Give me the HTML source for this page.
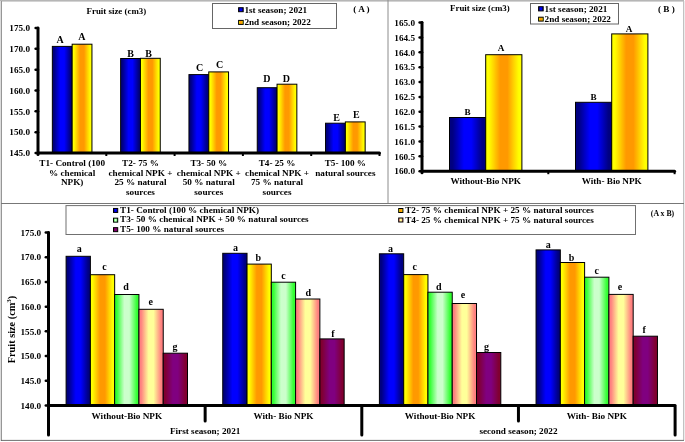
<!DOCTYPE html>
<html><head><meta charset="utf-8"><style>
html,body{margin:0;padding:0;background:#fff;width:685px;height:442px;overflow:hidden;}
svg{display:block;will-change:transform;font-family:"Liberation Serif", serif;}
</style></head><body>
<svg width="685" height="442" viewBox="0 0 685 442" font-family='"Liberation Serif", serif' font-weight="bold"><defs><linearGradient id="gB" x1="0" x2="1" y1="0" y2="0"><stop offset="0.000" stop-color="#000080"/><stop offset="0.025" stop-color="#000080"/><stop offset="0.050" stop-color="#000080"/><stop offset="0.075" stop-color="#000080"/><stop offset="0.100" stop-color="#000086"/><stop offset="0.125" stop-color="#000090"/><stop offset="0.150" stop-color="#00009a"/><stop offset="0.175" stop-color="#0000a4"/><stop offset="0.200" stop-color="#0000ae"/><stop offset="0.225" stop-color="#0000b8"/><stop offset="0.250" stop-color="#0000c3"/><stop offset="0.275" stop-color="#0000cd"/><stop offset="0.300" stop-color="#0000d7"/><stop offset="0.325" stop-color="#0000e1"/><stop offset="0.350" stop-color="#0000eb"/><stop offset="0.375" stop-color="#0000f5"/><stop offset="0.400" stop-color="#0000ff"/><stop offset="0.425" stop-color="#0000ff"/><stop offset="0.450" stop-color="#0000ff"/><stop offset="0.475" stop-color="#0000ff"/><stop offset="0.500" stop-color="#0000ff"/><stop offset="0.525" stop-color="#0000ff"/><stop offset="0.550" stop-color="#0000ff"/><stop offset="0.575" stop-color="#0000ff"/><stop offset="0.600" stop-color="#0000ff"/><stop offset="0.625" stop-color="#0000f5"/><stop offset="0.650" stop-color="#0000eb"/><stop offset="0.675" stop-color="#0000e1"/><stop offset="0.700" stop-color="#0000d7"/><stop offset="0.725" stop-color="#0000cd"/><stop offset="0.750" stop-color="#0000c3"/><stop offset="0.775" stop-color="#0000b8"/><stop offset="0.800" stop-color="#0000ae"/><stop offset="0.825" stop-color="#0000a4"/><stop offset="0.850" stop-color="#00009a"/><stop offset="0.875" stop-color="#000090"/><stop offset="0.900" stop-color="#000086"/><stop offset="0.925" stop-color="#000080"/><stop offset="0.950" stop-color="#000080"/><stop offset="0.975" stop-color="#000080"/><stop offset="1.000" stop-color="#000080"/></linearGradient><linearGradient id="gY" x1="0" x2="1" y1="0" y2="0"><stop offset="0.000" stop-color="#ffff00"/><stop offset="0.025" stop-color="#ffff00"/><stop offset="0.050" stop-color="#ffff00"/><stop offset="0.075" stop-color="#ffff00"/><stop offset="0.100" stop-color="#fffa00"/><stop offset="0.125" stop-color="#fff200"/><stop offset="0.150" stop-color="#ffea00"/><stop offset="0.175" stop-color="#ffe200"/><stop offset="0.200" stop-color="#ffda00"/><stop offset="0.225" stop-color="#ffd200"/><stop offset="0.250" stop-color="#ffca00"/><stop offset="0.275" stop-color="#ffc100"/><stop offset="0.300" stop-color="#ffb900"/><stop offset="0.325" stop-color="#ffb100"/><stop offset="0.350" stop-color="#ffa900"/><stop offset="0.375" stop-color="#ffa100"/><stop offset="0.400" stop-color="#ff9900"/><stop offset="0.425" stop-color="#ff9900"/><stop offset="0.450" stop-color="#ff9900"/><stop offset="0.475" stop-color="#ff9900"/><stop offset="0.500" stop-color="#ff9900"/><stop offset="0.525" stop-color="#ff9900"/><stop offset="0.550" stop-color="#ff9900"/><stop offset="0.575" stop-color="#ff9900"/><stop offset="0.600" stop-color="#ff9900"/><stop offset="0.625" stop-color="#ffa100"/><stop offset="0.650" stop-color="#ffa900"/><stop offset="0.675" stop-color="#ffb100"/><stop offset="0.700" stop-color="#ffb900"/><stop offset="0.725" stop-color="#ffc100"/><stop offset="0.750" stop-color="#ffca00"/><stop offset="0.775" stop-color="#ffd200"/><stop offset="0.800" stop-color="#ffda00"/><stop offset="0.825" stop-color="#ffe200"/><stop offset="0.850" stop-color="#ffea00"/><stop offset="0.875" stop-color="#fff200"/><stop offset="0.900" stop-color="#fffa00"/><stop offset="0.925" stop-color="#ffff00"/><stop offset="0.950" stop-color="#ffff00"/><stop offset="0.975" stop-color="#ffff00"/><stop offset="1.000" stop-color="#ffff00"/></linearGradient><linearGradient id="gG" x1="0" x2="1" y1="0" y2="0"><stop offset="0.000" stop-color="#33ff33"/><stop offset="0.025" stop-color="#33ff33"/><stop offset="0.050" stop-color="#33ff33"/><stop offset="0.075" stop-color="#33ff33"/><stop offset="0.100" stop-color="#3aff3a"/><stop offset="0.125" stop-color="#46ff46"/><stop offset="0.150" stop-color="#53ff53"/><stop offset="0.175" stop-color="#5fff5f"/><stop offset="0.200" stop-color="#6bff6b"/><stop offset="0.225" stop-color="#77ff77"/><stop offset="0.250" stop-color="#83ff83"/><stop offset="0.275" stop-color="#8fff8f"/><stop offset="0.300" stop-color="#9bff9b"/><stop offset="0.325" stop-color="#a8ffa8"/><stop offset="0.350" stop-color="#b4ffb4"/><stop offset="0.375" stop-color="#c0ffc0"/><stop offset="0.400" stop-color="#ccffcc"/><stop offset="0.425" stop-color="#ccffcc"/><stop offset="0.450" stop-color="#ccffcc"/><stop offset="0.475" stop-color="#ccffcc"/><stop offset="0.500" stop-color="#ccffcc"/><stop offset="0.525" stop-color="#ccffcc"/><stop offset="0.550" stop-color="#ccffcc"/><stop offset="0.575" stop-color="#ccffcc"/><stop offset="0.600" stop-color="#ccffcc"/><stop offset="0.625" stop-color="#c0ffc0"/><stop offset="0.650" stop-color="#b4ffb4"/><stop offset="0.675" stop-color="#a8ffa8"/><stop offset="0.700" stop-color="#9bff9b"/><stop offset="0.725" stop-color="#8fff8f"/><stop offset="0.750" stop-color="#83ff83"/><stop offset="0.775" stop-color="#77ff77"/><stop offset="0.800" stop-color="#6bff6b"/><stop offset="0.825" stop-color="#5fff5f"/><stop offset="0.850" stop-color="#53ff53"/><stop offset="0.875" stop-color="#46ff46"/><stop offset="0.900" stop-color="#3aff3a"/><stop offset="0.925" stop-color="#33ff33"/><stop offset="0.950" stop-color="#33ff33"/><stop offset="0.975" stop-color="#33ff33"/><stop offset="1.000" stop-color="#33ff33"/></linearGradient><linearGradient id="gP" x1="0" x2="1" y1="0" y2="0"><stop offset="0.000" stop-color="#ff8080"/><stop offset="0.025" stop-color="#ff8080"/><stop offset="0.050" stop-color="#ff8080"/><stop offset="0.075" stop-color="#ff8080"/><stop offset="0.100" stop-color="#ff8681"/><stop offset="0.125" stop-color="#ff9083"/><stop offset="0.150" stop-color="#ff9a85"/><stop offset="0.175" stop-color="#ffa487"/><stop offset="0.200" stop-color="#ffae89"/><stop offset="0.225" stop-color="#ffb88b"/><stop offset="0.250" stop-color="#ffc38d"/><stop offset="0.275" stop-color="#ffcd8f"/><stop offset="0.300" stop-color="#ffd791"/><stop offset="0.325" stop-color="#ffe193"/><stop offset="0.350" stop-color="#ffeb95"/><stop offset="0.375" stop-color="#fff597"/><stop offset="0.400" stop-color="#ffff99"/><stop offset="0.425" stop-color="#ffff99"/><stop offset="0.450" stop-color="#ffff99"/><stop offset="0.475" stop-color="#ffff99"/><stop offset="0.500" stop-color="#ffff99"/><stop offset="0.525" stop-color="#ffff99"/><stop offset="0.550" stop-color="#ffff99"/><stop offset="0.575" stop-color="#ffff99"/><stop offset="0.600" stop-color="#ffff99"/><stop offset="0.625" stop-color="#fff597"/><stop offset="0.650" stop-color="#ffeb95"/><stop offset="0.675" stop-color="#ffe193"/><stop offset="0.700" stop-color="#ffd791"/><stop offset="0.725" stop-color="#ffcd8f"/><stop offset="0.750" stop-color="#ffc38d"/><stop offset="0.775" stop-color="#ffb88b"/><stop offset="0.800" stop-color="#ffae89"/><stop offset="0.825" stop-color="#ffa487"/><stop offset="0.850" stop-color="#ff9a85"/><stop offset="0.875" stop-color="#ff9083"/><stop offset="0.900" stop-color="#ff8681"/><stop offset="0.925" stop-color="#ff8080"/><stop offset="0.950" stop-color="#ff8080"/><stop offset="0.975" stop-color="#ff8080"/><stop offset="1.000" stop-color="#ff8080"/></linearGradient><linearGradient id="gM" x1="0" x2="1" y1="0" y2="0"><stop offset="0.000" stop-color="#800030"/><stop offset="0.025" stop-color="#800030"/><stop offset="0.050" stop-color="#800030"/><stop offset="0.075" stop-color="#800030"/><stop offset="0.100" stop-color="#800034"/><stop offset="0.125" stop-color="#80003a"/><stop offset="0.150" stop-color="#800041"/><stop offset="0.175" stop-color="#800047"/><stop offset="0.200" stop-color="#80004d"/><stop offset="0.225" stop-color="#800054"/><stop offset="0.250" stop-color="#80005a"/><stop offset="0.275" stop-color="#800060"/><stop offset="0.300" stop-color="#800067"/><stop offset="0.325" stop-color="#80006d"/><stop offset="0.350" stop-color="#800073"/><stop offset="0.375" stop-color="#80007a"/><stop offset="0.400" stop-color="#800080"/><stop offset="0.425" stop-color="#800080"/><stop offset="0.450" stop-color="#800080"/><stop offset="0.475" stop-color="#800080"/><stop offset="0.500" stop-color="#800080"/><stop offset="0.525" stop-color="#800080"/><stop offset="0.550" stop-color="#800080"/><stop offset="0.575" stop-color="#800080"/><stop offset="0.600" stop-color="#800080"/><stop offset="0.625" stop-color="#80007a"/><stop offset="0.650" stop-color="#800073"/><stop offset="0.675" stop-color="#80006d"/><stop offset="0.700" stop-color="#800067"/><stop offset="0.725" stop-color="#800060"/><stop offset="0.750" stop-color="#80005a"/><stop offset="0.775" stop-color="#800054"/><stop offset="0.800" stop-color="#80004d"/><stop offset="0.825" stop-color="#800047"/><stop offset="0.850" stop-color="#800041"/><stop offset="0.875" stop-color="#80003a"/><stop offset="0.900" stop-color="#800034"/><stop offset="0.925" stop-color="#800030"/><stop offset="0.950" stop-color="#800030"/><stop offset="0.975" stop-color="#800030"/><stop offset="1.000" stop-color="#800030"/></linearGradient></defs><rect width="685" height="442" fill="#fff"/><rect x="0" y="0" width="684" height="1.6" fill="#b6b6b6"/>
<rect x="0" y="1" width="1" height="440" fill="#dcdcdc"/>
<rect x="1" y="1" width="1" height="440" fill="#979797"/>
<rect x="683" y="1" width="1.3" height="439" fill="#c2c2c2"/>
<rect x="1" y="439.9" width="683" height="0.9" fill="#5f5f5f"/>
<line x1="1" y1="203.5" x2="684" y2="203.5" stroke="#777" stroke-width="1" stroke-linecap="butt"/>
<line x1="388" y1="0" x2="388" y2="203" stroke="#8c8c8c" stroke-width="1" stroke-linecap="butt"/>
<line x1="35.6" y1="153.0" x2="38" y2="153.0" stroke="#000" stroke-width="2.5" stroke-linecap="round"/>
<text x="30.00" y="156.20" font-size="9.2" text-anchor="end" >145.0</text>
<line x1="35.6" y1="132.16666666666666" x2="38" y2="132.16666666666666" stroke="#000" stroke-width="2.5" stroke-linecap="round"/>
<text x="30.00" y="135.37" font-size="9.2" text-anchor="end" >150.0</text>
<line x1="35.6" y1="111.33333333333333" x2="38" y2="111.33333333333333" stroke="#000" stroke-width="2.5" stroke-linecap="round"/>
<text x="30.00" y="114.53" font-size="9.2" text-anchor="end" >155.0</text>
<line x1="35.6" y1="90.5" x2="38" y2="90.5" stroke="#000" stroke-width="2.5" stroke-linecap="round"/>
<text x="30.00" y="93.70" font-size="9.2" text-anchor="end" >160.0</text>
<line x1="35.6" y1="69.66666666666666" x2="38" y2="69.66666666666666" stroke="#000" stroke-width="2.5" stroke-linecap="round"/>
<text x="30.00" y="72.87" font-size="9.2" text-anchor="end" >165.0</text>
<line x1="35.6" y1="48.83333333333333" x2="38" y2="48.83333333333333" stroke="#000" stroke-width="2.5" stroke-linecap="round"/>
<text x="30.00" y="52.03" font-size="9.2" text-anchor="end" >170.0</text>
<line x1="35.6" y1="27.999999999999986" x2="38" y2="27.999999999999986" stroke="#000" stroke-width="2.5" stroke-linecap="round"/>
<text x="30.00" y="31.20" font-size="9.2" text-anchor="end" >175.0</text>
<rect x="52.35" y="46.40" width="19.80" height="106.60" fill="url(#gB)" stroke="#000" stroke-width="1"/>
<rect x="72.15" y="44.20" width="19.80" height="108.80" fill="url(#gY)" stroke="#000" stroke-width="1"/>
<text x="60.20" y="42.70" font-size="10" text-anchor="middle" >A</text>
<text x="81.80" y="39.60" font-size="10" text-anchor="middle" >A</text>
<rect x="120.65" y="58.50" width="19.80" height="94.50" fill="url(#gB)" stroke="#000" stroke-width="1"/>
<rect x="140.45" y="58.30" width="19.80" height="94.70" fill="url(#gY)" stroke="#000" stroke-width="1"/>
<text x="130.50" y="56.50" font-size="10" text-anchor="middle" >B</text>
<text x="148.60" y="56.50" font-size="10" text-anchor="middle" >B</text>
<rect x="188.95" y="74.60" width="19.80" height="78.40" fill="url(#gB)" stroke="#000" stroke-width="1"/>
<rect x="208.75" y="71.90" width="19.80" height="81.10" fill="url(#gY)" stroke="#000" stroke-width="1"/>
<text x="199.50" y="71.10" font-size="10" text-anchor="middle" >C</text>
<text x="219.60" y="67.50" font-size="10" text-anchor="middle" >C</text>
<rect x="257.25" y="87.70" width="19.80" height="65.30" fill="url(#gB)" stroke="#000" stroke-width="1"/>
<rect x="277.05" y="84.20" width="19.80" height="68.80" fill="url(#gY)" stroke="#000" stroke-width="1"/>
<text x="266.90" y="82.20" font-size="10" text-anchor="middle" >D</text>
<text x="286.30" y="82.20" font-size="10" text-anchor="middle" >D</text>
<rect x="325.55" y="123.20" width="19.80" height="29.80" fill="url(#gB)" stroke="#000" stroke-width="1"/>
<rect x="345.35" y="121.90" width="19.80" height="31.10" fill="url(#gY)" stroke="#000" stroke-width="1"/>
<text x="336.60" y="121.10" font-size="10" text-anchor="middle" >E</text>
<text x="356.40" y="117.50" font-size="10" text-anchor="middle" >E</text>
<line x1="38" y1="28" x2="38" y2="154.5" stroke="#000" stroke-width="3" stroke-linecap="round"/>
<line x1="38" y1="153" x2="379.5" y2="153" stroke="#000" stroke-width="3" stroke-linecap="round"/>
<line x1="106.3" y1="153" x2="106.3" y2="156" stroke="#000" stroke-width="2" stroke-linecap="butt"/>
<line x1="174.6" y1="153" x2="174.6" y2="156" stroke="#000" stroke-width="2" stroke-linecap="butt"/>
<line x1="242.89999999999998" y1="153" x2="242.89999999999998" y2="156" stroke="#000" stroke-width="2" stroke-linecap="butt"/>
<line x1="311.2" y1="153" x2="311.2" y2="156" stroke="#000" stroke-width="2" stroke-linecap="butt"/>
<line x1="379.5" y1="153" x2="379.5" y2="156" stroke="#000" stroke-width="2" stroke-linecap="butt"/>
<text x="72.15" y="166.00" font-size="9.2" text-anchor="middle" >T1- Control (100</text>
<text x="72.15" y="175.70" font-size="9.2" text-anchor="middle" >% chemical</text>
<text x="72.15" y="185.40" font-size="9.2" text-anchor="middle" >NPK)</text>
<text x="140.45" y="166.00" font-size="9.2" text-anchor="middle" >T2- 75 %</text>
<text x="140.45" y="175.70" font-size="9.2" text-anchor="middle" >chemical NPK +</text>
<text x="140.45" y="185.40" font-size="9.2" text-anchor="middle" >25 % natural</text>
<text x="140.45" y="195.10" font-size="9.2" text-anchor="middle" >sources</text>
<text x="208.75" y="166.00" font-size="9.2" text-anchor="middle" >T3- 50 %</text>
<text x="208.75" y="175.70" font-size="9.2" text-anchor="middle" >chemical NPK +</text>
<text x="208.75" y="185.40" font-size="9.2" text-anchor="middle" >50 % natural</text>
<text x="208.75" y="195.10" font-size="9.2" text-anchor="middle" >sources</text>
<text x="277.05" y="166.00" font-size="9.2" text-anchor="middle" >T4- 25 %</text>
<text x="277.05" y="175.70" font-size="9.2" text-anchor="middle" >chemical NPK +</text>
<text x="277.05" y="185.40" font-size="9.2" text-anchor="middle" >75 % natural</text>
<text x="277.05" y="195.10" font-size="9.2" text-anchor="middle" >sources</text>
<text x="345.35" y="166.00" font-size="9.2" text-anchor="middle" >T5- 100 %</text>
<text x="345.35" y="175.70" font-size="9.2" text-anchor="middle" >natural sources</text>
<text x="116.40" y="13.60" font-size="8.9" text-anchor="middle" >Fruit size (cm3)</text>
<rect x="212.50" y="3.50" width="124.00" height="25.00" fill="#fff" stroke="#666" stroke-width="1"/>
<rect x="238.60" y="7.70" width="4.60" height="4.00" fill="url(#gB)" stroke="#000" stroke-width="1"/>
<rect x="238.60" y="20.40" width="4.60" height="4.00" fill="url(#gY)" stroke="#000" stroke-width="1"/>
<text x="244.40" y="12.50" font-size="9.2" text-anchor="start" >1st season; 2021</text>
<text x="244.40" y="25.00" font-size="9.2" text-anchor="start" >2nd season; 2022</text>
<text x="361.50" y="12.10" font-size="9.2" text-anchor="middle" >( A )</text>
<line x1="419.6" y1="171.2" x2="422" y2="171.2" stroke="#000" stroke-width="2.5" stroke-linecap="round"/>
<text x="415.00" y="174.40" font-size="9.2" text-anchor="end" >160.0</text>
<line x1="419.6" y1="156.33999999999997" x2="422" y2="156.33999999999997" stroke="#000" stroke-width="2.5" stroke-linecap="round"/>
<text x="415.00" y="159.54" font-size="9.2" text-anchor="end" >160.5</text>
<line x1="419.6" y1="141.48" x2="422" y2="141.48" stroke="#000" stroke-width="2.5" stroke-linecap="round"/>
<text x="415.00" y="144.68" font-size="9.2" text-anchor="end" >161.0</text>
<line x1="419.6" y1="126.61999999999999" x2="422" y2="126.61999999999999" stroke="#000" stroke-width="2.5" stroke-linecap="round"/>
<text x="415.00" y="129.82" font-size="9.2" text-anchor="end" >161.5</text>
<line x1="419.6" y1="111.75999999999999" x2="422" y2="111.75999999999999" stroke="#000" stroke-width="2.5" stroke-linecap="round"/>
<text x="415.00" y="114.96" font-size="9.2" text-anchor="end" >162.0</text>
<line x1="419.6" y1="96.89999999999999" x2="422" y2="96.89999999999999" stroke="#000" stroke-width="2.5" stroke-linecap="round"/>
<text x="415.00" y="100.10" font-size="9.2" text-anchor="end" >162.5</text>
<line x1="419.6" y1="82.03999999999999" x2="422" y2="82.03999999999999" stroke="#000" stroke-width="2.5" stroke-linecap="round"/>
<text x="415.00" y="85.24" font-size="9.2" text-anchor="end" >163.0</text>
<line x1="419.6" y1="67.17999999999999" x2="422" y2="67.17999999999999" stroke="#000" stroke-width="2.5" stroke-linecap="round"/>
<text x="415.00" y="70.38" font-size="9.2" text-anchor="end" >163.5</text>
<line x1="419.6" y1="52.31999999999999" x2="422" y2="52.31999999999999" stroke="#000" stroke-width="2.5" stroke-linecap="round"/>
<text x="415.00" y="55.52" font-size="9.2" text-anchor="end" >164.0</text>
<line x1="419.6" y1="37.45999999999998" x2="422" y2="37.45999999999998" stroke="#000" stroke-width="2.5" stroke-linecap="round"/>
<text x="415.00" y="40.66" font-size="9.2" text-anchor="end" >164.5</text>
<line x1="419.6" y1="22.599999999999994" x2="422" y2="22.599999999999994" stroke="#000" stroke-width="2.5" stroke-linecap="round"/>
<text x="415.00" y="25.80" font-size="9.2" text-anchor="end" >165.0</text>
<rect x="449.50" y="117.50" width="36.20" height="53.70" fill="url(#gB)" stroke="#000" stroke-width="1"/>
<rect x="485.70" y="54.70" width="36.20" height="116.50" fill="url(#gY)" stroke="#000" stroke-width="1"/>
<text x="467.60" y="114.90" font-size="9.2" text-anchor="middle" >B</text>
<text x="501.00" y="51.10" font-size="9.2" text-anchor="middle" >A</text>
<rect x="575.50" y="102.30" width="36.20" height="68.90" fill="url(#gB)" stroke="#000" stroke-width="1"/>
<rect x="611.70" y="33.90" width="36.20" height="137.30" fill="url(#gY)" stroke="#000" stroke-width="1"/>
<text x="593.50" y="100.30" font-size="9.2" text-anchor="middle" >B</text>
<text x="629.00" y="31.50" font-size="9.2" text-anchor="middle" >A</text>
<line x1="422" y1="22.6" x2="422" y2="172.7" stroke="#000" stroke-width="3" stroke-linecap="round"/>
<line x1="422" y1="171.2" x2="674.6" y2="171.2" stroke="#000" stroke-width="3" stroke-linecap="round"/>
<line x1="548.3" y1="171.2" x2="548.3" y2="174.2" stroke="#000" stroke-width="2" stroke-linecap="butt"/>
<line x1="674.6" y1="171.2" x2="674.6" y2="174.2" stroke="#000" stroke-width="2" stroke-linecap="butt"/>
<text x="485.75" y="183.90" font-size="9.2" text-anchor="middle" >Without-Bio NPK</text>
<text x="611.75" y="183.90" font-size="9.2" text-anchor="middle" >With- Bio NPK</text>
<text x="479.90" y="11.30" font-size="8.9" text-anchor="middle" >Fruit size (cm3)</text>
<rect x="530.50" y="3.50" width="88.00" height="20.50" fill="#fff" stroke="#666" stroke-width="1"/>
<rect x="538.60" y="6.70" width="4.60" height="4.20" fill="url(#gB)" stroke="#000" stroke-width="1"/>
<rect x="538.60" y="17.20" width="4.60" height="3.90" fill="url(#gY)" stroke="#000" stroke-width="1"/>
<text x="544.60" y="12.00" font-size="9.2" text-anchor="start" >1st season; 2021</text>
<text x="544.60" y="22.00" font-size="9.2" text-anchor="start" >2nd season; 2022</text>
<text x="666.40" y="12.30" font-size="9.2" text-anchor="middle" >( B )</text>
<line x1="45.8" y1="405.5" x2="48.5" y2="405.5" stroke="#000" stroke-width="2.5" stroke-linecap="round"/>
<text x="41.20" y="408.70" font-size="9.2" text-anchor="end" >140.0</text>
<line x1="45.8" y1="380.7857142857143" x2="48.5" y2="380.7857142857143" stroke="#000" stroke-width="2.5" stroke-linecap="round"/>
<text x="41.20" y="383.99" font-size="9.2" text-anchor="end" >145.0</text>
<line x1="45.8" y1="356.07142857142856" x2="48.5" y2="356.07142857142856" stroke="#000" stroke-width="2.5" stroke-linecap="round"/>
<text x="41.20" y="359.27" font-size="9.2" text-anchor="end" >150.0</text>
<line x1="45.8" y1="331.3571428571429" x2="48.5" y2="331.3571428571429" stroke="#000" stroke-width="2.5" stroke-linecap="round"/>
<text x="41.20" y="334.56" font-size="9.2" text-anchor="end" >155.0</text>
<line x1="45.8" y1="306.6428571428571" x2="48.5" y2="306.6428571428571" stroke="#000" stroke-width="2.5" stroke-linecap="round"/>
<text x="41.20" y="309.84" font-size="9.2" text-anchor="end" >160.0</text>
<line x1="45.8" y1="281.92857142857144" x2="48.5" y2="281.92857142857144" stroke="#000" stroke-width="2.5" stroke-linecap="round"/>
<text x="41.20" y="285.13" font-size="9.2" text-anchor="end" >165.0</text>
<line x1="45.8" y1="257.2142857142857" x2="48.5" y2="257.2142857142857" stroke="#000" stroke-width="2.5" stroke-linecap="round"/>
<text x="41.20" y="260.41" font-size="9.2" text-anchor="end" >170.0</text>
<line x1="45.8" y1="232.5" x2="48.5" y2="232.5" stroke="#000" stroke-width="2.5" stroke-linecap="round"/>
<text x="41.20" y="235.70" font-size="9.2" text-anchor="end" >175.0</text>
<rect x="66.10" y="256.30" width="24.28" height="149.20" fill="url(#gB)" stroke="#000" stroke-width="1"/>
<text x="79.30" y="251.60" font-size="10" text-anchor="middle" >a</text>
<rect x="90.38" y="274.70" width="24.28" height="130.80" fill="url(#gY)" stroke="#000" stroke-width="1"/>
<text x="104.40" y="270.20" font-size="10" text-anchor="middle" >c</text>
<rect x="114.66" y="294.50" width="24.28" height="111.00" fill="url(#gG)" stroke="#000" stroke-width="1"/>
<text x="126.00" y="289.80" font-size="10" text-anchor="middle" >d</text>
<rect x="138.94" y="309.30" width="24.28" height="96.20" fill="url(#gP)" stroke="#000" stroke-width="1"/>
<text x="150.80" y="305.00" font-size="10" text-anchor="middle" >e</text>
<rect x="163.22" y="353.20" width="24.28" height="52.30" fill="url(#gM)" stroke="#000" stroke-width="1"/>
<text x="174.90" y="350.30" font-size="10" text-anchor="middle" >g</text>
<rect x="222.75" y="253.30" width="24.28" height="152.20" fill="url(#gB)" stroke="#000" stroke-width="1"/>
<text x="235.50" y="251.30" font-size="10" text-anchor="middle" >a</text>
<rect x="247.03" y="264.10" width="24.28" height="141.40" fill="url(#gY)" stroke="#000" stroke-width="1"/>
<text x="258.30" y="260.60" font-size="10" text-anchor="middle" >b</text>
<rect x="271.31" y="282.20" width="24.28" height="123.30" fill="url(#gG)" stroke="#000" stroke-width="1"/>
<text x="283.60" y="279.30" font-size="10" text-anchor="middle" >c</text>
<rect x="295.59" y="299.00" width="24.28" height="106.50" fill="url(#gP)" stroke="#000" stroke-width="1"/>
<text x="308.30" y="295.60" font-size="10" text-anchor="middle" >d</text>
<rect x="319.87" y="338.90" width="24.28" height="66.60" fill="url(#gM)" stroke="#000" stroke-width="1"/>
<text x="333.00" y="336.90" font-size="10" text-anchor="middle" >f</text>
<rect x="379.40" y="253.80" width="24.28" height="151.70" fill="url(#gB)" stroke="#000" stroke-width="1"/>
<text x="390.50" y="251.60" font-size="10" text-anchor="middle" >a</text>
<rect x="403.68" y="274.60" width="24.28" height="130.90" fill="url(#gY)" stroke="#000" stroke-width="1"/>
<text x="414.70" y="269.50" font-size="10" text-anchor="middle" >c</text>
<rect x="427.96" y="292.20" width="24.28" height="113.30" fill="url(#gG)" stroke="#000" stroke-width="1"/>
<text x="438.90" y="289.90" font-size="10" text-anchor="middle" >d</text>
<rect x="452.24" y="303.50" width="24.28" height="102.00" fill="url(#gP)" stroke="#000" stroke-width="1"/>
<text x="462.90" y="298.40" font-size="10" text-anchor="middle" >e</text>
<rect x="476.52" y="352.50" width="24.28" height="53.00" fill="url(#gM)" stroke="#000" stroke-width="1"/>
<text x="486.50" y="350.10" font-size="10" text-anchor="middle" >g</text>
<rect x="536.05" y="249.90" width="24.28" height="155.60" fill="url(#gB)" stroke="#000" stroke-width="1"/>
<text x="548.20" y="247.50" font-size="10" text-anchor="middle" >a</text>
<rect x="560.33" y="262.50" width="24.28" height="143.00" fill="url(#gY)" stroke="#000" stroke-width="1"/>
<text x="571.50" y="260.70" font-size="10" text-anchor="middle" >b</text>
<rect x="584.61" y="277.20" width="24.28" height="128.30" fill="url(#gG)" stroke="#000" stroke-width="1"/>
<text x="596.70" y="274.10" font-size="10" text-anchor="middle" >c</text>
<rect x="608.89" y="294.40" width="24.28" height="111.10" fill="url(#gP)" stroke="#000" stroke-width="1"/>
<text x="620.10" y="290.30" font-size="10" text-anchor="middle" >e</text>
<rect x="633.17" y="336.20" width="24.28" height="69.30" fill="url(#gM)" stroke="#000" stroke-width="1"/>
<text x="644.20" y="332.90" font-size="10" text-anchor="middle" >f</text>
<line x1="48.5" y1="232.5" x2="48.5" y2="435" stroke="#000" stroke-width="3" stroke-linecap="round"/>
<line x1="48.5" y1="405.5" x2="675.1" y2="405.5" stroke="#000" stroke-width="3" stroke-linecap="butt"/>
<line x1="205.15" y1="405.5" x2="205.15" y2="421" stroke="#000" stroke-width="3" stroke-linecap="round"/>
<line x1="361.8" y1="405.5" x2="361.8" y2="435" stroke="#000" stroke-width="3" stroke-linecap="round"/>
<line x1="518.45" y1="405.5" x2="518.45" y2="421" stroke="#000" stroke-width="3" stroke-linecap="round"/>
<line x1="675.1" y1="405.5" x2="675.1" y2="435" stroke="#000" stroke-width="3" stroke-linecap="round"/>
<text x="126.83" y="418.90" font-size="9.2" text-anchor="middle" >Without-Bio NPK</text>
<text x="283.48" y="418.90" font-size="9.2" text-anchor="middle" >With- Bio NPK</text>
<text x="440.12" y="418.90" font-size="9.2" text-anchor="middle" >Without-Bio NPK</text>
<text x="596.78" y="418.90" font-size="9.2" text-anchor="middle" >With- Bio NPK</text>
<text x="205.15" y="433.80" font-size="9.2" text-anchor="middle" >First season; 2021</text>
<text x="518.45" y="433.80" font-size="9.2" text-anchor="middle" >second season; 2022</text>
<text transform="translate(14.8,329.5) rotate(-90)" font-size="10.3" text-anchor="middle">Fruit size (cm<tspan font-size="7" dy="-4">3</tspan><tspan dy="4">)</tspan></text>
<rect x="66.00" y="205.60" width="569.50" height="28.90" fill="#fff" stroke="#707070" stroke-width="1"/>
<rect x="113.50" y="208.45" width="4.20" height="4.00" fill="url(#gB)" stroke="#000" stroke-width="1"/>
<text x="120.10" y="213.10" font-size="9.2" text-anchor="start" >T1- Control (100 % chemical NPK)</text>
<rect x="113.50" y="218.15" width="4.20" height="4.00" fill="url(#gG)" stroke="#000" stroke-width="1"/>
<text x="120.10" y="222.40" font-size="9.2" text-anchor="start" >T3- 50 % chemical NPK + 50 % natural sources</text>
<rect x="113.50" y="227.65" width="4.20" height="4.00" fill="url(#gM)" stroke="#000" stroke-width="1"/>
<text x="120.10" y="231.90" font-size="9.2" text-anchor="start" >T5- 100 % natural sources</text>
<rect x="398.70" y="208.50" width="4.20" height="4.00" fill="url(#gY)" stroke="#000" stroke-width="1"/>
<text x="405.20" y="213.30" font-size="9.2" text-anchor="start" >T2- 75 % chemical NPK + 25 % natural sources</text>
<rect x="398.70" y="218.00" width="4.20" height="4.00" fill="url(#gP)" stroke="#000" stroke-width="1"/>
<text x="405.20" y="223.00" font-size="9.2" text-anchor="start" >T4- 25 % chemical NPK + 75 % natural sources</text>
<text x="662.50" y="216.10" font-size="7.8" text-anchor="middle" >(A x B)</text></svg>
</body></html>
